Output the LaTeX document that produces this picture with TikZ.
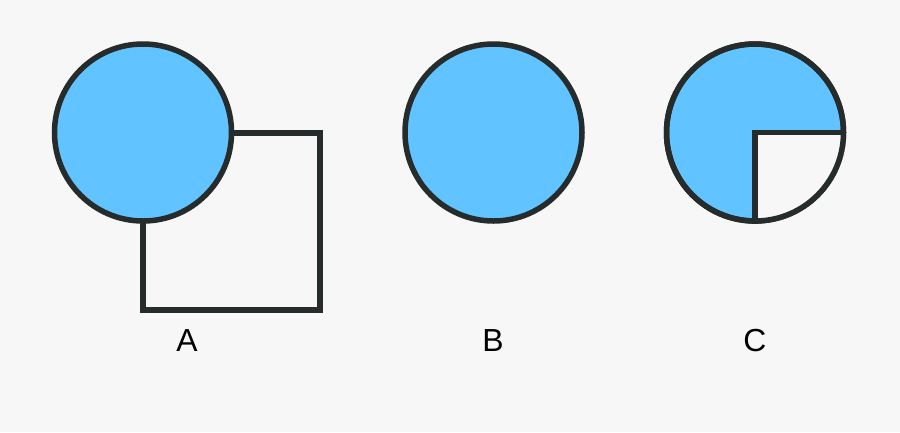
\documentclass[tikz,border=0pt]{standalone}
\usepackage{fontspec}
\setmainfont{Liberation Sans}
\definecolor{bg}{HTML}{F7F7F7}
\definecolor{blu}{HTML}{61C3FF}
\definecolor{ink}{HTML}{262B2B}
\tikzset{
  disc/.style={circle, inner sep=0pt, minimum size=177bp, fill=blu, draw=ink, line width=5.5bp},
  outline/.style={draw=ink, line width=5.5bp},
  lab/.style={font=\fontsize{32}{36}\selectfont, text=black, inner sep=0pt}
}
\begin{document}
\begin{tikzpicture}[x=1bp, y=-1bp]
\fill[bg] (0,0) rectangle (900,432);
\useasboundingbox (0,0) rectangle (900,432);
% A
\draw[outline] (143,133) rectangle (320,310);
\node[disc] (cA) at (143,132.5) {};
\node[lab] (lA) at (187,340.5) {A};
% B
\node[disc] (cB) at (493.5,132.5) {};
\node[lab] (lB) at (493,340.5) {B};
% C
\node[disc] (cC) at (755,132.5) {};
\fill[bg] (cC.center) -- (cC.east) arc[start angle=0, end angle=-90, radius=88.5bp] -- cycle;
\draw[outline] (cC.center) circle[radius=88.5bp];
\draw[outline, line join=miter] (cC.east) -- (cC.center) -- (cC.south);
\node[lab] (lC) at (755,340.5) {C};
\end{tikzpicture}
\end{document}
